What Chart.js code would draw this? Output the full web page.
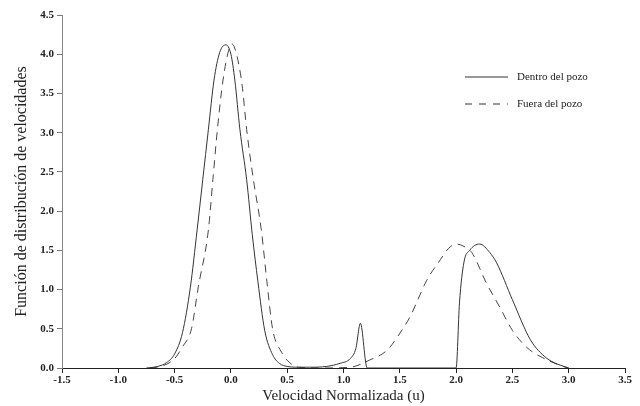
<!DOCTYPE html>
<html>
<head>
<meta charset="utf-8">
<script src="https://cdn.jsdelivr.net/npm/chart.js@4"></script>
<style>
  body { margin: 0; background: #fff; }
  #wrap { width: 640px; height: 406px; }
</style>
</head>
<body>
<div id="wrap"><canvas id="myGraph" width="640" height="406"></canvas></div>
<script>
// Dentro del pozo (solid)
const dentroX = [-0.75, -0.65, -0.57, -0.5, -0.43, -0.36, -0.3, -0.25, -0.2, -0.15, -0.1, -0.045, 0.0, 0.035, 0.08, 0.14, 0.19, 0.24, 0.3, 0.37, 0.43, 0.5, 0.6, 0.7, 0.85, 0.97, 1.06, 1.11, 1.15, 1.21, 1.5, 2.0, 2.03, 2.07, 2.12, 2.21, 2.3, 2.36, 2.5, 2.66, 2.8, 2.9, 3.0];
const dentroY = [0.0, 0.02, 0.07, 0.18, 0.45, 1.03, 1.76, 2.4, 3.04, 3.67, 4.02, 4.12, 4.0, 3.67, 3.04, 2.4, 1.7, 1.1, 0.48, 0.17, 0.06, 0.02, 0.01, 0.01, 0.02, 0.06, 0.12, 0.25, 0.57, 0.0, 0.0, 0.0, 0.83, 1.35, 1.5, 1.58, 1.47, 1.34, 0.87, 0.36, 0.13, 0.05, 0.0];

// Fuera del pozo (dashed)
const fueraX = [-0.72, -0.6, -0.5, -0.43, -0.35, -0.29, -0.2, -0.16, -0.12, -0.07, -0.02, 0.01, 0.05, 0.1, 0.14, 0.2, 0.27, 0.32, 0.37, 0.45, 0.52, 0.6, 0.8, 1.06, 1.23, 1.39, 1.48, 1.59, 1.66, 1.74, 1.86, 1.93, 2.0, 2.07, 2.14, 2.27, 2.39, 2.5, 2.63, 2.77, 2.95, 3.0];
const fueraY = [0.0, 0.03, 0.12, 0.27, 0.5, 1.03, 1.76, 2.4, 3.04, 3.67, 4.05, 4.13, 4.0, 3.6, 3.04, 2.4, 1.76, 1.1, 0.5, 0.2, 0.07, 0.01, 0.0, 0.01, 0.1, 0.23, 0.4, 0.65, 0.87, 1.12, 1.38, 1.52, 1.58, 1.55, 1.47, 1.08, 0.77, 0.48, 0.26, 0.13, 0.02, 0.0];

const seriesNames = ['Dentro del pozo', 'Fuera del pozo'];
const xTitle = 'Velocidad Normalizada (u)';
const yTitle = 'Función de distribución de velocidades';

const serif = '"Liberation Serif", "Times New Roman", serif';

const toPoints = (xs, ys) => xs.map((x, i) => ({ x: x, y: ys[i] }));

// legend drawn inside the plot, top right
const legendBox = {
  id: 'legendBox',
  afterDraw(chart) {
    const c = chart.ctx;
    const rows = [
      { y: 77, dash: [] },
      { y: 104, dash: [7, 7] }
    ];
    c.save();
    c.strokeStyle = '#333';
    c.lineWidth = 1;
    c.fillStyle = '#222';
    c.font = '11px ' + serif;
    c.textBaseline = 'middle';
    rows.forEach((r, i) => {
      c.setLineDash(r.dash);
      c.beginPath();
      c.moveTo(465, r.y);
      c.lineTo(508, r.y);
      c.stroke();
      c.fillText(seriesNames[i], 517, r.y);
    });
    c.restore();
  }
};

const data = {
  datasets: [{
    label: seriesNames[0],
    data: toPoints(dentroX, dentroY),
    borderColor: '#333',
    borderWidth: 1,
    showLine: true,
    pointRadius: 0,
    cubicInterpolationMode: 'monotone'
  },
  {
    label: seriesNames[1],
    data: toPoints(fueraX, fueraY),
    borderColor: '#444',
    borderWidth: 1,
    borderDash: [8, 6],
    showLine: true,
    pointRadius: 0,
    cubicInterpolationMode: 'monotone'
  }]
};

const config = {
  type: 'scatter',
  data: data,
  plugins: [legendBox],
  options: {
    responsive: false,
    animation: false,
    layout: { padding: { top: 15, right: 15, left: 0, bottom: 0 } },
    plugins: { legend: { display: false }, tooltip: { enabled: false } },
    scales: {
      x: {
        type: 'linear',
        min: -1.5,
        max: 3.5,
        afterFit: (s) => { s.height = 38; },
        ticks: {
          stepSize: 0.5,
          autoSkip: false,
          maxRotation: 0,
          padding: 1,
          color: '#222',
          font: { family: serif, size: 11, weight: 'bold' },
          callback: (v) => v.toFixed(1)
        },
        grid: { drawOnChartArea: false, tickLength: 5, color: '#222' },
        border: { color: '#222', width: 1 },
        title: {
          display: true,
          text: xTitle,
          color: '#222',
          font: { family: serif, size: 15 },
          padding: { top: 0, bottom: 1 }
        }
      },
      y: {
        min: 0,
        max: 4.5,
        afterFit: (s) => { s.width = 62; },
        ticks: {
          stepSize: 0.5,
          padding: 3,
          color: '#222',
          font: { family: serif, size: 11, weight: 'bold' },
          callback: (v) => v.toFixed(1)
        },
        grid: { drawOnChartArea: false, tickLength: 5, color: '#777' },
        border: { color: '#888', width: 1 },
        title: {
          display: true,
          text: yTitle,
          color: '#222',
          font: { family: serif, size: 16 },
          padding: { top: 12, bottom: 0 }
        }
      }
    }
  }
};

const myChart = new Chart(document.getElementById('myGraph'), config);
</script>
</body>
</html>
